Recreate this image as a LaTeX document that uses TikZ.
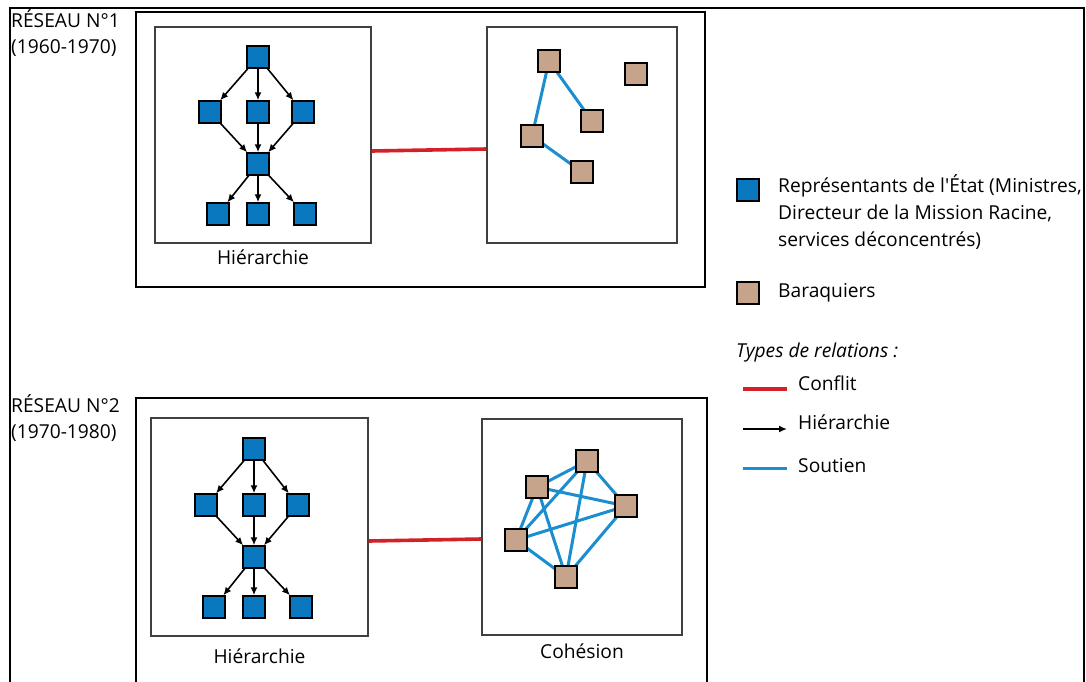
\documentclass[tikz,border=0pt]{standalone}
\usepackage{fontspec}
\setmainfont{Open Sans}
\usepackage{tikz}
\usetikzlibrary{arrows.meta,positioning}

\definecolor{etatblue}{HTML}{0A78BE}
\definecolor{baraqbrown}{HTML}{C6A38B}
\definecolor{soutienblue}{HTML}{1B8ECF}
\definecolor{conflitred}{HTML}{D42027}

\begin{document}
\begin{tikzpicture}[
  x=1pt, y=-1pt,
  font=\fontsize{19.2}{26}\selectfont,
  etat/.style={draw, fill=etatblue, line width=1.4pt, minimum size=22pt, inner sep=0pt},
  baraq/.style={draw, fill=baraqbrown, line width=1.5pt, minimum size=22pt, inner sep=0pt},
  panel/.style={draw=black!75, line width=1.3pt, inner sep=0pt},
  reseau/.style={draw, line width=1.6pt},
  hier/.style={-{Latex[length=8pt,width=7pt]}, line width=1.6pt},
  soutien/.style={draw=soutienblue, line width=3pt},
  conflit/.style={draw=conflitred, line width=3.6pt},
  txt/.style={anchor=north west, align=left, inner sep=0pt}
]
  \useasboundingbox (0,0) rectangle (1086,681);
  \clip (0,0) rectangle (1086,681);

  % page frame
  \draw[line width=2pt] (10,690) -- (10,8) -- (1084,8) -- (1084,690);

  % --- reseau 1 ---
  \node[txt] (r1_title) at (11,9) {RÉSEAU N°1\\(1960-1970)};
  \draw[reseau] (136,12) rectangle (705,287);
  \node[panel, minimum width=216pt, minimum height=216pt] (h1_box) at (263,135) {};
  \node[panel, minimum width=190pt, minimum height=216pt] (c1_box) at (582,135) {};
  \node[below=3pt of h1_box] (h1_lbl) {Hiérarchie};

  \node[etat] (h1_top) at (258,57) {};
  \node[etat] (h1_l) at (210,112) {};
  \node[etat] (h1_m) at (258,112) {};
  \node[etat] (h1_r) at (303,112) {};
  \node[etat] (h1_mid) at (258,164) {};
  \node[etat] (h1_bl) at (218,214) {};
  \node[etat] (h1_bm) at (258,214) {};
  \node[etat] (h1_br) at (305,214) {};

  \draw[hier] (h1_top) -- (h1_l);
  \draw[hier] (h1_top) -- (h1_m);
  \draw[hier] (h1_top) -- (h1_r);
  \draw[hier] (h1_l) -- (h1_mid);
  \draw[hier] (h1_m) -- (h1_mid);
  \draw[hier] (h1_r) -- (h1_mid);
  \draw[hier] (h1_mid) -- (h1_bl);
  \draw[hier] (h1_mid) -- (h1_bm);
  \draw[hier] (h1_mid) -- (h1_br);

  \draw[soutien] (549,61) -- (532,136);
  \draw[soutien] (549,61) -- (592,121);
  \draw[soutien] (532,136) -- (582,172);
  \node[baraq] (c1_a) at (549,61) {};
  \node[baraq] (c1_b) at (636,74) {};
  \node[baraq] (c1_c) at (592,121) {};
  \node[baraq] (c1_d) at (532,136) {};
  \node[baraq] (c1_e) at (582,172) {};

  \draw[conflit] ([yshift=-16pt]h1_box.east) -- ([yshift=-14pt]c1_box.west);

  % --- reseau 2 ---
  \node[txt] (r2_title) at (11,394) {RÉSEAU N°2\\(1970-1980)};
  \draw[reseau] (136,690) -- (136,398) -- (707,398) -- (707,690);
  \node[panel, minimum width=217pt, minimum height=218pt] (h2_box) at (259.5,527) {};
  \node[panel, minimum width=200pt, minimum height=216pt] (c2_box) at (582,527) {};
  \node[below=9pt of h2_box] (h2_lbl) {Hiérarchie};
  \node[below=5pt of c2_box] (c2_lbl) {Cohésion};

  \node[etat] (h2_top) at (254,449) {};
  \node[etat] (h2_l) at (206,505) {};
  \node[etat] (h2_m) at (254,505) {};
  \node[etat] (h2_r) at (298,505) {};
  \node[etat] (h2_mid) at (254,557) {};
  \node[etat] (h2_bl) at (214,607) {};
  \node[etat] (h2_bm) at (254,607) {};
  \node[etat] (h2_br) at (301,607) {};

  \draw[hier] (h2_top) -- (h2_l);
  \draw[hier] (h2_top) -- (h2_m);
  \draw[hier] (h2_top) -- (h2_r);
  \draw[hier] (h2_l) -- (h2_mid);
  \draw[hier] (h2_m) -- (h2_mid);
  \draw[hier] (h2_r) -- (h2_mid);
  \draw[hier] (h2_mid) -- (h2_bl);
  \draw[hier] (h2_mid) -- (h2_bm);
  \draw[hier] (h2_mid) -- (h2_br);

  \coordinate (c2_pa) at (587,461);
  \coordinate (c2_pb) at (537,487);
  \coordinate (c2_pc) at (626,506);
  \coordinate (c2_pd) at (516,540);
  \coordinate (c2_pe) at (566,577);
  \draw[soutien] (c2_pa) -- (c2_pb);
  \draw[soutien] (c2_pa) -- (c2_pc);
  \draw[soutien] (c2_pa) -- (c2_pd);
  \draw[soutien] (c2_pa) -- (c2_pe);
  \draw[soutien] (c2_pb) -- (c2_pc);
  \draw[soutien] (c2_pb) -- (c2_pd);
  \draw[soutien] (c2_pb) -- (c2_pe);
  \draw[soutien] (c2_pc) -- (c2_pd);
  \draw[soutien] (c2_pc) -- (c2_pe);
  \draw[soutien] (c2_pd) -- (c2_pe);
  \node[baraq] (c2_a) at (c2_pa) {};
  \node[baraq] (c2_b) at (c2_pb) {};
  \node[baraq] (c2_c) at (c2_pc) {};
  \node[baraq] (c2_d) at (c2_pd) {};
  \node[baraq] (c2_e) at (c2_pe) {};

  \draw[conflit] ([yshift=-14pt]h2_box.east) -- ([yshift=-12pt]c2_box.west);

  % --- legende ---
  \node[etat] (lg_etat) at (748,190) {};
  \node[txt, font=\fontsize{19.2}{27}\selectfont] (lg_etat_txt) at (778,174) {Représentants de l\textquotesingle État (Ministres,\\Directeur de la Mission Racine,\\services déconcentrés)};
  \node[baraq] (lg_baraq) at (748,293) {};
  \node[txt] (lg_baraq_txt) at (778,283) {Baraquiers};
  \node[txt] (lg_types) at (736,343) {\itshape Types de relations :};

  \coordinate (lg_c1) at (743,389);
  \coordinate (lg_c2) at (787,389);
  \coordinate (lg_h1) at (743,429);
  \coordinate (lg_h2) at (787,429);
  \coordinate (lg_s1) at (743,468);
  \coordinate (lg_s2) at (787,468);
  \draw[conflit] (lg_c1) -- (lg_c2);
  \draw[hier] (lg_h1) -- (lg_h2);
  \draw[soutien] (lg_s1) -- (lg_s2);
  \node[txt] (lg_c_txt) at (798,376) {Conflit};
  \node[txt] (lg_h_txt) at (798,415) {Hiérarchie};
  \node[txt] (lg_s_txt) at (798,458) {Soutien};
\end{tikzpicture}
\end{document}
